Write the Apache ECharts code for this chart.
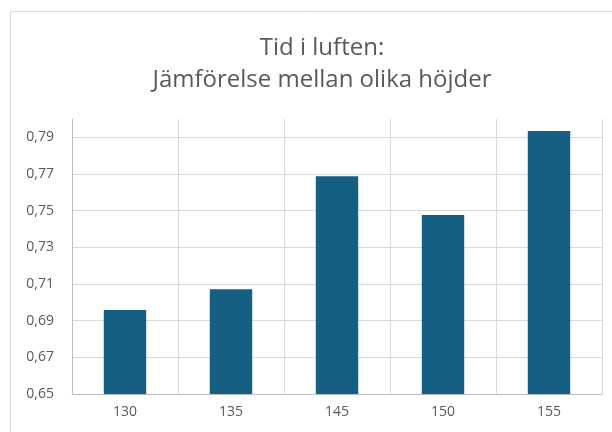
<!DOCTYPE html>
<html>
<head>
<meta charset="utf-8">
<script src="https://cdn.jsdelivr.net/npm/echarts@6/dist/echarts.min.js"></script>
<style>
  html, body { margin: 0; padding: 0; background: #fff; }
  #chart { width: 612px; height: 432px; }
</style>
</head>
<body>
<div id="chart"></div>
<script>
// Höjder (kategorier) och tid i luften
const heights = ['130', '135', '145', '150', '155'];
const airTime = [0.6958, 0.7071, 0.7688, 0.7476, 0.7935];

const chart = echarts.init(document.getElementById('chart'));

const option = {
  backgroundColor: '#fff',
  textStyle: { fontFamily: 'Open Sans' },
  title: {
    text: 'Tid i luften:\nJämförelse mellan olika höjder',
    left: 317,
    top: 27,
    textAlign: 'center',
    textStyle: {
      color: '#595959',
      fontSize: 24,
      fontWeight: 'normal',
      lineHeight: 32,
      fontFamily: 'Open Sans'
    }
  },
  graphic: [{
    type: 'rect',
    shape: { x: 10.5, y: 11.5, width: 640, height: 460 },
    style: { fill: 'none', stroke: '#d9d9d9', lineWidth: 1 },
    silent: true
  }],
  grid: { left: 72, right: 10, top: 119, bottom: 38 },
  xAxis: {
    type: 'category',
    data: heights,
    axisLine: { lineStyle: { color: '#bfbfbf' } },
    axisTick: { show: false },
    splitLine: { show: true, lineStyle: { color: '#d9d9d9' } },
    axisLabel: { color: '#595959', fontSize: 14, margin: 11 }
  },
  yAxis: {
    type: 'value',
    min: 0.65,
    max: 0.8,
    interval: 0.02,
    axisLine: { show: true, lineStyle: { color: '#bfbfbf' } },
    axisTick: { show: false },
    splitLine: { showMaxLine: false, lineStyle: { color: '#d9d9d9' } },
    axisLabel: {
      color: '#595959',
      fontSize: 14,
      margin: 18,
      showMaxLabel: false,
      formatter: v => (Math.abs(v - 0.8) < 1e-9 ? '' : v.toFixed(2).replace('.', ','))
    }
  },
  series: [{
    type: 'bar',
    data: airTime,
    barCategoryGap: '60%',
    itemStyle: { color: '#156082' }
  }]
};

chart.setOption(option);
</script>
</body>
</html>
